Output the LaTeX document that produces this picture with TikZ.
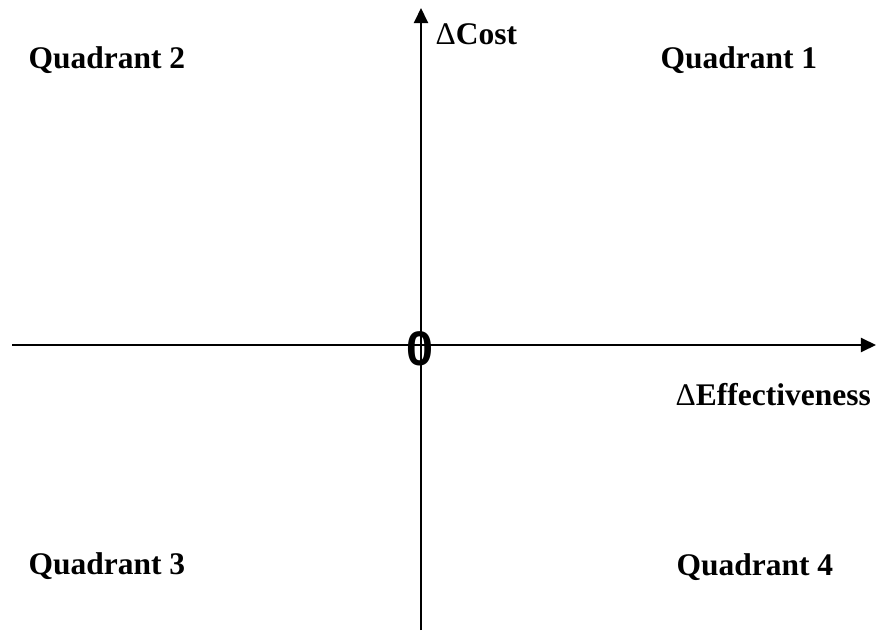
\documentclass[tikz,border=0pt]{standalone}
\usepackage{fontspec}
\setmainfont{Liberation Serif}
\newfontfamily\zerofont{Liberation Sans}
\usetikzlibrary{arrows.meta}

\begin{document}
\begin{tikzpicture}[x=0.01cm, y=0.01cm, >={Triangle[length=4.3pt, width=4pt]},
        axis/.style={line width=0.6pt, ->},
        quad/.style={anchor=base west, inner sep=0pt, font=\fontsize{8.95}{11}\selectfont\bfseries}]
    \useasboundingbox (0,0) rectangle (876,630);
    \coordinate (hl) at (12,285);
    \coordinate (hr) at (876,285);
    \coordinate (vb) at (421,0);
    \coordinate (vt) at (421,622);

    \draw[axis] (hl) -- (hr);
    \draw[axis] (vb) -- (vt);

    \node[inner sep=0pt, font=\zerofont\fontsize{13.8}{15}\selectfont\bfseries] (zero) at (420,281) {0};

    \node[quad] (q2) at (28,561) {Quadrant 2};
    \node[quad] (q1) at (660,561) {Quadrant 1};
    \node[quad] (q3) at (28,56) {Quadrant 3};
    \node[quad] (q4) at (676,55) {Quadrant 4};
    \node[quad] (cost) at (435,585) {{\mdseries Δ}Cost};
    \node[quad] (eff) at (675,225) {{\mdseries Δ}Effectiveness};
\end{tikzpicture}
\end{document}
